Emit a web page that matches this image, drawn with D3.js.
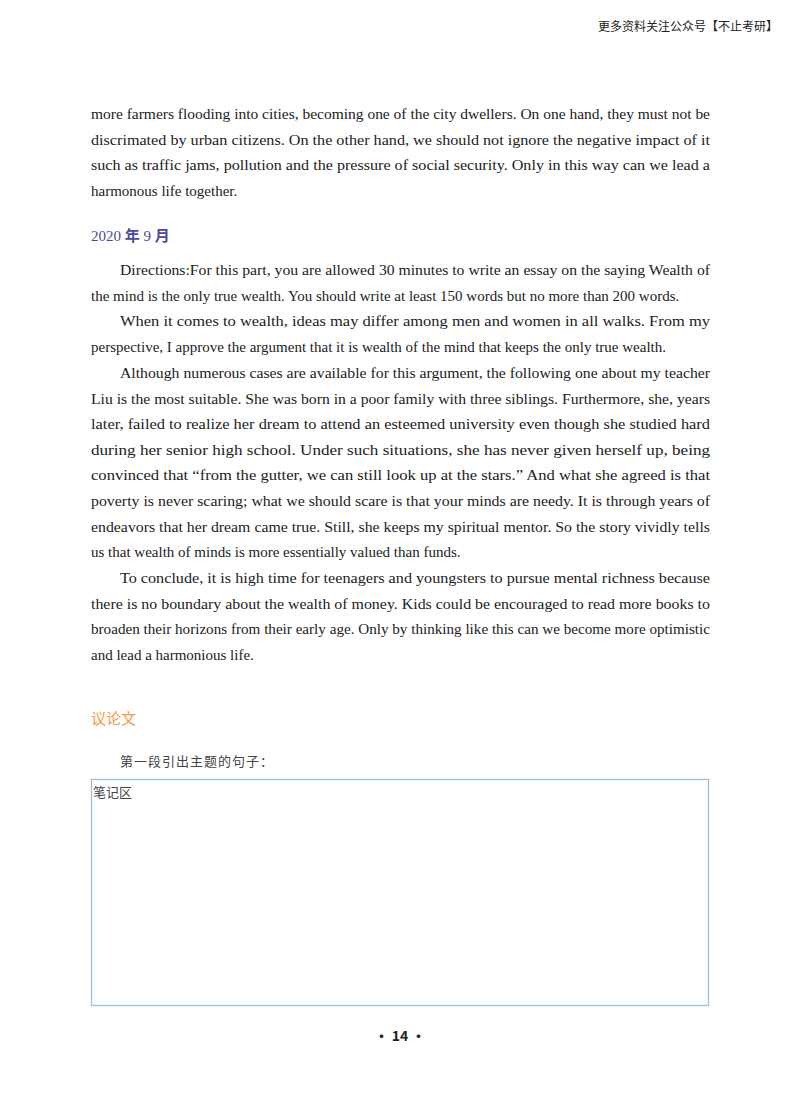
<!DOCTYPE html>
<html><head><meta charset="utf-8">
<script src="https://cdn.jsdelivr.net/npm/d3@7"></script>
<style>body{margin:0;background:#fff}</style></head>
<body><svg id="c" width="800" height="1114"></svg>
<script>
const header = "更多资料关注公众号【不止考研】";
const para0 = ["more farmers flooding into cities, becoming one of the city dwellers. On one hand, they must not be",
"discrimated by urban citizens. On the other hand, we should not ignore the negative impact of it",
"such as traffic jams, pollution and the pressure of social security. Only in this way can we lead a",
"harmonous life together."];
const para1 = ["Directions:For this part, you are allowed 30 minutes to write an essay on the saying Wealth of",
"the mind is the only true wealth. You should write at least 150 words but no more than 200 words."];
const para2 = ["When it comes to wealth, ideas may differ among men and women in all walks. From my",
"perspective, I approve the argument that it is wealth of the mind that keeps the only true wealth."];
const para3 = ["Although numerous cases are available for this argument, the following one about my teacher",
"Liu is the most suitable. She was born in a poor family with three siblings. Furthermore, she, years",
"later, failed to realize her dream to attend an esteemed university even though she studied hard",
"during her senior high school. Under such situations, she has never given herself up, being",
"convinced that “from the gutter, we can still look up at the stars.” And what she agreed is that",
"poverty is never scaring; what we should scare is that your minds are needy. It is through years of",
"endeavors that her dream came true. Still, she keeps my spiritual mentor. So the story vividly tells",
"us that wealth of minds is more essentially valued than funds."];
const para4 = ["To conclude, it is high time for teenagers and youngsters to pursue mental richness because",
"there is no boundary about the wealth of money. Kids could be encouraged to read more books to",
"broaden their horizons from their early age. Only by thinking like this can we become more optimistic",
"and lead a harmonious life."];
const heading1 = ["2020 ","年"," 9 ","月"];
const heading2 = "议论文";
const prompt = "第一段引出主题的句子：";
const noteLabel = "笔记区";
const pageNum = "· 14 ·";

const svg = d3.select("#c");
const x = d3.scaleLinear().domain([0,1]).range([91,710]);
const lineH = 25.6;
const serif = "'Liberation Serif','DejaVu Serif',serif";
const cjk = "'Noto Sans CJK SC',sans-serif";

svg.append("text").attr("x",778).attr("y",31).attr("text-anchor","end")
  .attr("font-family",cjk).attr("font-size",12).attr("fill","#222").text(header);

function para(lines, y0, indent){
  lines.forEach((t,i)=>{
    const last = i===lines.length-1;
    const xs = x(0) + (i===0&&indent?29:0);
    const tx = svg.append("text").attr("x",xs).attr("y",y0+i*lineH)
      .attr("font-family",serif).attr("font-size",15).attr("fill","#222")
      .attr("xml:space","preserve").text(t);
    if(!last){ tx.attr("textLength",x(1)-xs).attr("lengthAdjust","spacingAndGlyphs"); }
  });
}
para(para0,119,false);
const h = svg.append("text").attr("x",91).attr("y",241).attr("font-size",15).attr("fill","#4a4a9c").attr("xml:space","preserve");
heading1.forEach((t,i)=>h.append("tspan").attr("font-family",i%2?cjk:serif).attr("font-weight",i%2?"bold":"normal").text(t));
para(para1,275,true);
para(para2,326,true);
para(para3,378,true);
para(para4,583,true);

svg.append("text").attr("x",91).attr("y",724).attr("font-family",cjk).attr("font-size",15).attr("fill","#f4994a").text(heading2);
svg.append("text").attr("x",120).attr("y",766).attr("font-family",cjk).attr("font-size",13).attr("fill","#444").attr("letter-spacing",1).text(prompt);
svg.append("rect").attr("x",91.5).attr("y",779.5).attr("width",617).attr("height",226).attr("fill","none").attr("stroke","#9bbfdc").attr("stroke-width",1.3);
svg.append("text").attr("x",93).attr("y",797).attr("font-family",cjk).attr("font-size",13).attr("fill","#444").text(noteLabel);
svg.append("text").attr("x",400).attr("y",1041).attr("text-anchor","middle").attr("font-family",cjk).attr("font-size",14).attr("font-weight","bold").attr("fill","#222").text(pageNum);
</script></body></html>
